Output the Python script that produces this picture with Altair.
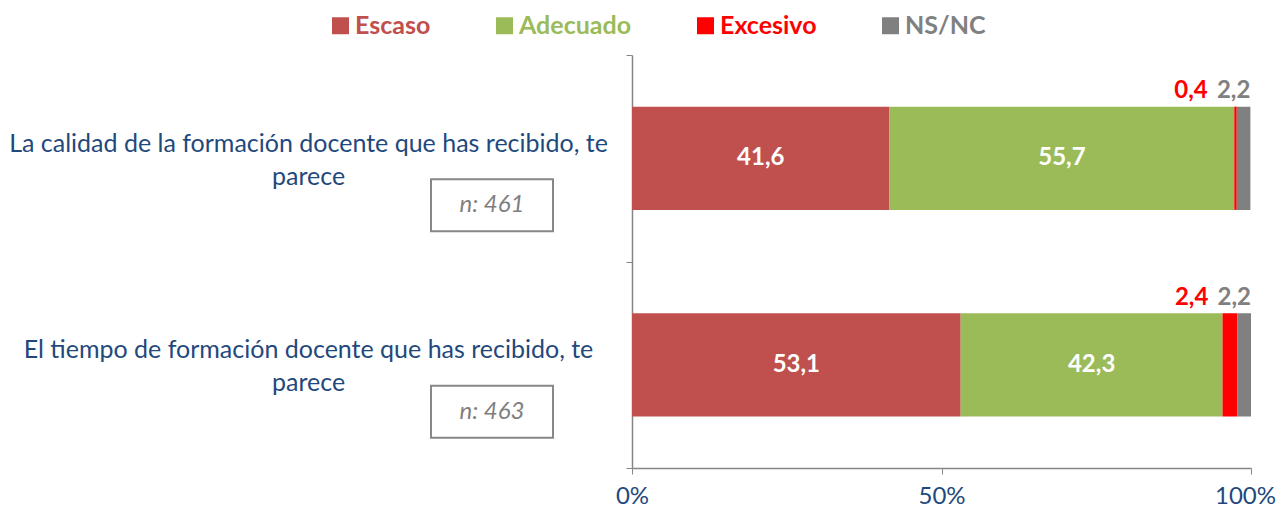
import altair as alt
import pandas as pd

questions = [
    "La calidad de la formación docente que has recibido, te|parece",
    "El tiempo de formación docente que has recibido, te|parece",
]
categories = ["Escaso", "Adecuado", "Excesivo", "NS/NC"]
colors = ["#C0504D", "#9BBB59", "#FF0000", "#808080"]
values_q1 = [41.6, 55.7, 0.4, 2.2]
values_q2 = [53.1, 42.3, 2.4, 2.2]
n_values = [461, 463]
x_ticks = [0, 50, 100]

rows = []
for q, vals in zip(questions, [values_q1, values_q2]):
    for i, (c, v) in enumerate(zip(categories, vals)):
        rows.append({"q": q, "cat": c, "v": v, "order": i})
df = pd.DataFrame(rows)
df_n = pd.DataFrame({"q": questions, "n": n_values})

FONT = "Lato"
BLUE = "#1F497D"
GRAY = "#868686"

y_enc = alt.Y(
    "q:N",
    sort=questions,
    scale=alt.Scale(paddingInner=0, paddingOuter=0),
    axis=alt.Axis(
        title=None,
        labelExpr="split(datum.label, '|')",
        labelAlign="center",
        labelBaseline="middle",
        labelPadding=318,
        labelOffset=-15,
        labelFont=FONT,
        labelFontSize=25,
        labelColor=BLUE,
        labelLineHeight=33,
        labelLimit=0,
        tickBand="extent",
        tickSize=6,
        tickColor=GRAY,
        domainColor=GRAY,
        domainWidth=1.5,
    ),
)

x_scale = alt.Scale(domain=[0, 100], nice=False)

base = alt.Chart(df).transform_stack(
    stack="v", groupby=["q"], as_=["v0", "v1"], sort=[alt.SortField("order")]
).transform_calculate(
    mid="(datum.v0 + datum.v1) / 2",
    lbl="replace(format(datum.v, '.1f'), '.', ',')",
)

bars = base.mark_bar(height={"band": 0.5}).encode(
    y=y_enc,
    x=alt.X(
        "v0:Q",
        scale=x_scale,
        axis=alt.Axis(
            title=None,
            values=x_ticks,
            labelExpr="datum.value + '%'",
            labelFlush=False,
            labelOffset={"expr": "datum.value == 100 ? -6 : 0"},
            grid=False,
            tickSize=6,
            tickColor=GRAY,
            domainColor=GRAY,
            domainWidth=1.5,
            labelPadding=10,
            labelFont=FONT,
            labelFontSize=24,
            labelColor=BLUE,
        ),
    ),
    x2="v1:Q",
    color=alt.Color(
        "cat:N",
        scale=alt.Scale(domain=categories, range=colors),
        legend=alt.Legend(
            title=None,
            orient="none",
            legendX=-304,
            legendY=-42,
            direction="horizontal",
            symbolType="square",
            symbolSize=289,
            symbolStrokeWidth=0,
            labelFont=FONT,
            labelFontSize=25,
            labelFontWeight="bold",
            labelColor={"expr": "scale('color', datum.value)"},
            columnPadding=61,
            labelOffset=2,
        ),
    ),
    order=alt.Order("order:Q"),
)

inside = base.transform_filter("datum.order < 2").mark_text(
    font=FONT, fontSize=24, fontWeight="bold", color="white"
).encode(y=y_enc, x=alt.X("mid:Q", scale=x_scale), text="lbl:N")

exc = base.transform_filter("datum.cat == 'Excesivo'").mark_text(
    font=FONT, fontSize=24, fontWeight="bold", color="#FF0000", align="right", dx=-29, dy=-67
).encode(y=y_enc, x=alt.X("v1:Q", scale=x_scale), text="lbl:N")

nsnc = base.transform_filter("datum.cat == 'NS/NC'").mark_text(
    font=FONT, fontSize=24, fontWeight="bold", color="#808080", align="right", dx=0, dy=-67
).encode(y=y_enc, x=alt.X("v1:Q", scale=x_scale), text="lbl:N")

box_path = "M-1,-0.4262L1,-0.4262L1,0.4262L-1,0.4262Z"
boxes = alt.Chart(df_n).mark_point(
    shape=box_path, size=14884, filled=False, stroke="#878787", strokeWidth=2, opacity=1, yOffset=47
).encode(y=y_enc, x=alt.value(-140))

ntext = alt.Chart(df_n).transform_calculate(t="'n: ' + datum.n").mark_text(
    font=FONT, fontSize=24, fontStyle="italic", color="#7F7F7F", dy=47
).encode(y=y_enc, x=alt.value(-140), text="t:N")

chart = alt.layer(bars, inside, exc, nsnc, boxes, ntext).properties(
    width=619,
    height=413,
    autosize=alt.AutoSizeParams(type="none"),
    padding={"left": 624, "top": 47, "right": 27, "bottom": 42},
).configure_view(stroke=None)

chart.save("out.html", embed_options={"renderer": "svg", "actions": False})
